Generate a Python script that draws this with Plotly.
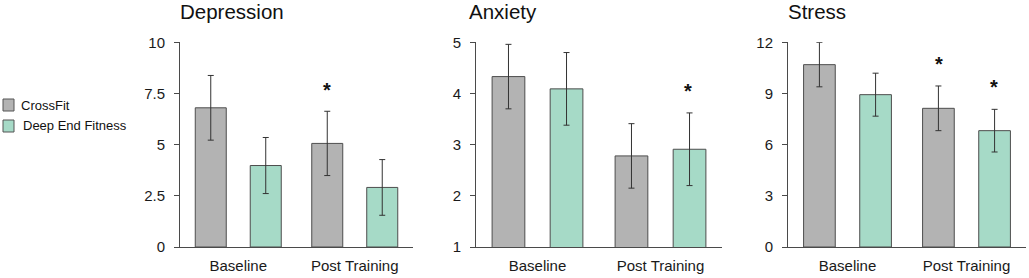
import plotly.graph_objects as go

W, H = 1029, 278

categories = ["Baseline", "Post Training"]
series_names = ["CrossFit", "Deep End Fitness"]
series_colors = ["#b3b3b3", "#a6dac7"]

panel_titles = ["Depression", "Anxiety", "Stress"]

dep_cf = [6.8, 5.06]
dep_cf_err = [1.58, 1.57]
dep_def = [3.98, 2.91]
dep_def_err = [1.37, 1.36]

anx_cf = [4.33, 2.78]
anx_cf_err = [0.63, 0.63]
anx_def = [4.09, 2.91]
anx_def_err = [0.71, 0.71]

str_cf = [10.69, 8.13]
str_cf_err = [1.30, 1.31]
str_def = [8.93, 6.82]
str_def_err = [1.26, 1.25]

dep_ticks = [0, 2.5, 5, 7.5, 10]
dep_ticklabels = ["0", "2.5", "5", "7.5", "10"]
anx_ticks = [1, 2, 3, 4, 5]
anx_ticklabels = ["1", "2", "3", "4", "5"]
str_ticks = [0, 3, 6, 9, 12]
str_ticklabels = ["0", "3", "6", "9", "12"]

# significance markers: (panel index, category, series index, y value)
star_panel = [0, 1, 2, 2]
star_cat = [1, 1, 1, 1]
star_series = [0, 1, 0, 1]
star_y = [7.85, 4.12, 10.95, 9.6]

panels = [
    (dep_cf, dep_cf_err, dep_def, dep_def_err, dep_ticks, dep_ticklabels),
    (anx_cf, anx_cf_err, anx_def, anx_def_err, anx_ticks, anx_ticklabels),
    (str_cf, str_cf_err, str_def, str_def_err, str_ticks, str_ticklabels),
]

# layout (pixels)
x_domains_px = [(180, 413), (476, 722), (788, 1026)]
y_top_px, y_bot_px = 42.3, 247

fig = go.Figure()
FONT = "Liberation Sans, Arial, sans-serif"
AX = "#4a4a4a"

for i, (cf, cfe, de, dee, tv, tt) in enumerate(panels):
    suf = "" if i == 0 else str(i + 1)
    for vals, errs, name, col in [(cf, cfe, series_names[0], series_colors[0]),
                                  (de, dee, series_names[1], series_colors[1])]:
        fig.add_trace(go.Bar(
            x=categories, y=vals, name=name, showlegend=False,
            marker=dict(color=col, line=dict(color="#4d4d4d", width=1)),
            error_y=dict(type="data", array=errs, visible=True,
                         color="#333333", thickness=1, width=3),
            xaxis="x" + suf, yaxis="y" + suf, offsetgroup=str(len(fig.data) % 2),
        ))
    d0, d1 = x_domains_px[i]
    fig.layout["xaxis" + suf] = dict(
        domain=[d0 / W, d1 / W], anchor="y" + suf, range=[-0.5, 1.5],
        automargin=False,
        showline=True, linecolor=AX, linewidth=1, showgrid=False, zeroline=False,
        ticks="outside", ticklen=5, tickcolor="rgba(0,0,0,0)",
        tickfont=dict(family=FONT, size=15, color="#1a1a1a"),
    )
    fig.layout["yaxis" + suf] = dict(
        domain=[(H - y_bot_px) / H, (H - y_top_px) / H], anchor="x" + suf,
        automargin=False,
        range=[tv[0], tv[-1]], tickvals=tv, ticktext=tt,
        showline=True, linecolor=AX, linewidth=1, showgrid=False, zeroline=False,
        ticks="outside", ticklen=5, tickcolor=AX, ticklabelstandoff=6,
        tickfont=dict(family=FONT, size=15, color="#1a1a1a"),
    )
    # inner half of the crossing ticks
    fig.layout["yaxis" + str(i + 4)] = dict(
        overlaying="y" + suf, anchor="x" + suf, side="left", automargin=False,
        range=[tv[0], tv[-1]], tickvals=tv, showticklabels=False,
        showline=False, showgrid=False, zeroline=False,
        ticks="inside", ticklen=5, tickcolor=AX,
    )
    fig.add_annotation(
        text=panel_titles[i], xref="paper", yref="paper",
        x=(d0 - 2 - (7 if i == 1 else 0)) / W, y=(H - 12) / H,
        xanchor="left", yanchor="middle", showarrow=False,
        font=dict(family=FONT, size=20.5, color="#111111"),
    )

# significance asterisks
for p, c, s, yv in zip(star_panel, star_cat, star_series, star_y):
    suf = "" if p == 0 else str(p + 1)
    fig.add_annotation(
        text="<b>*</b>", x=categories[c], xshift=(-27.5 if s == 0 else 27.5),
        y=yv, xref="x" + suf, yref="y" + suf, showarrow=False,
        yanchor="middle", yshift=-4,
        font=dict(family=FONT, size=20, color="#111111"),
    )

# legend (manual)
leg_y = [(99, 111), (120, 132)]
leg_text_x = [21, 23]
for k in range(2):
    y0, y1 = leg_y[k]
    fig.add_shape(type="rect", xref="paper", yref="paper",
                  x0=3 / W, x1=14 / W, y0=(H - y1) / H, y1=(H - y0) / H,
                  fillcolor=series_colors[k], line=dict(color="#555555", width=1))
    fig.add_annotation(text=series_names[k], xref="paper", yref="paper",
                       x=(leg_text_x[k] - 2) / W, y=(H - (y0 + y1) / 2) / H,
                       xanchor="left", yanchor="middle", showarrow=False,
                       font=dict(family=FONT, size=13, color="#111111"))

fig.update_layout(
    template="none",
    width=W, height=H, margin=dict(l=0, r=0, t=0, b=0, autoexpand=False),
    barmode="group", bargap=0.056, bargroupgap=0.436,
    plot_bgcolor="rgba(0,0,0,0)", paper_bgcolor="white", showlegend=False,
)

fig.write_html(
    "out.html",
    config={"displayModeBar": False},
    post_script="document.body.style.margin='0';document.body.style.overflow='hidden';",
)
